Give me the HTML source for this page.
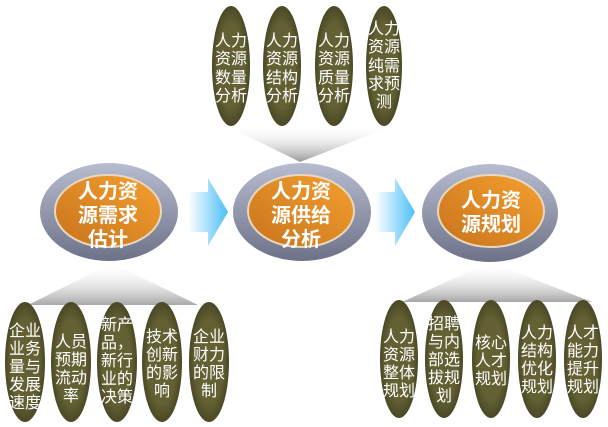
<!DOCTYPE html>
<html><head><meta charset="utf-8"><style>
body{margin:0;background:#fff;}
svg{display:block;font-family:"Liberation Sans","Noto Sans CJK SC",sans-serif;}
</style></head><body>
<svg width="608" height="427" viewBox="0 0 608 427" xmlns="http://www.w3.org/2000/svg">
<defs>
<linearGradient id="wedgeUp" x1="0" y1="1" x2="0" y2="0"><stop offset="0" stop-color="#a8a8a8"/><stop offset="1" stop-color="#fff" stop-opacity="0"/></linearGradient>
<linearGradient id="wedgeDn" x1="0" y1="0" x2="0" y2="1"><stop offset="0" stop-color="#fff" stop-opacity="0"/><stop offset="1" stop-color="#999"/></linearGradient>
<linearGradient id="ring" x1="0" y1="0" x2="0" y2="1"><stop offset="0" stop-color="#b8bcd0"/><stop offset="1" stop-color="#6e7288"/></linearGradient>
<linearGradient id="orange" x1="1" y1="0" x2="0" y2="1"><stop offset="0" stop-color="#f4a030"/><stop offset="1" stop-color="#c8731c"/></linearGradient>
<linearGradient id="arrow" x1="0" y1="0" x2="1" y2="0"><stop offset="0" stop-color="#fff"/><stop offset="1" stop-color="#4cc0f8"/></linearGradient>
<radialGradient id="olive" cx="0.5" cy="0.5" r="0.5"><stop offset="0.7" stop-color="#636033"/><stop offset="1" stop-color="#4a4826"/></radialGradient>
</defs>
<polygon points="225,125 395,125 300,162" fill="url(#wedgeDn)"/>
<polygon points="112,263 28,305 198,305" fill="url(#wedgeUp)"/>
<polygon points="490,262 402,302 592,302" fill="url(#wedgeUp)"/>
<polygon points="188,192 208,192 208,178 228,212 208,246 208,232 188,232" fill="url(#arrow)"/>
<polygon points="375,192 395,192 395,178 415,212 395,246 395,232 375,232" fill="url(#arrow)"/>
<g>
<ellipse cx="109" cy="212" rx="69" ry="49" fill="url(#ring)"/>
<ellipse cx="108" cy="211" rx="53" ry="36" fill="url(#orange)" stroke="#e8d8c0" stroke-width="2"/>
<ellipse cx="302" cy="212" rx="69" ry="49" fill="url(#ring)"/>
<ellipse cx="301" cy="211" rx="53" ry="36" fill="url(#orange)" stroke="#e8d8c0" stroke-width="2"/>
<ellipse cx="490" cy="213" rx="68" ry="49" fill="url(#ring)"/>
<ellipse cx="491" cy="211" rx="53" ry="36" fill="url(#orange)" stroke="#e8d8c0" stroke-width="2"/>
</g>
<g fill="#fff" font-size="20" font-weight="bold" text-anchor="middle">
<text x="108" y="198">人力资</text><text x="108" y="222">源需求</text><text x="108" y="246">估计</text>
<text x="301" y="198">人力资</text><text x="301" y="222">源供给</text><text x="301" y="246">分析</text>
<text x="491" y="207">人力资</text><text x="491" y="231">源规划</text>
</g>
<g fill="url(#olive)">
<ellipse cx="231" cy="66" rx="19" ry="60"/><ellipse cx="282" cy="66" rx="19" ry="60"/><ellipse cx="334" cy="66" rx="19" ry="60"/><ellipse cx="384" cy="66" rx="18" ry="60"/>
<ellipse cx="25" cy="362" rx="20" ry="60"/><ellipse cx="71" cy="362" rx="20" ry="60"/><ellipse cx="117" cy="362" rx="20" ry="60"/><ellipse cx="162" cy="362" rx="20" ry="60"/><ellipse cx="209" cy="362" rx="20" ry="60"/>
<ellipse cx="399" cy="359" rx="19" ry="59"/><ellipse cx="444" cy="359" rx="19" ry="59"/><ellipse cx="491" cy="359" rx="19" ry="59"/><ellipse cx="537" cy="359" rx="19" ry="59"/><ellipse cx="583" cy="359" rx="19" ry="59"/>
</g>
<g fill="#fff" font-size="16" text-anchor="middle">
<text x="231" y="46">人力</text><text x="231" y="64">资源</text><text x="231" y="83">数量</text><text x="231" y="101">分析</text>
<text x="282" y="46">人力</text><text x="282" y="64">资源</text><text x="282" y="83">结构</text><text x="282" y="101">分析</text>
<text x="334" y="46">人力</text><text x="334" y="64">资源</text><text x="334" y="83">质量</text><text x="334" y="101">分析</text>
<text x="384" y="34">人力</text><text x="384" y="52">资源</text><text x="384" y="71">纯需</text><text x="384" y="89">求预</text><text x="384" y="107">测</text>

<text x="25" y="336">企业</text><text x="25" y="354">业务</text><text x="25" y="372">量与</text><text x="25" y="390">发展</text><text x="25" y="408">速度</text>
<text x="71" y="347">人员</text><text x="71" y="365">预期</text><text x="71" y="383">流动</text><text x="71" y="401">率</text>
<text x="117" y="330">新产</text><text x="117" y="348">品，</text><text x="117" y="366">新行</text><text x="117" y="384">业的</text><text x="117" y="402">决策</text>
<text x="162" y="342">技术</text><text x="162" y="360">创新</text><text x="162" y="378">的影</text><text x="162" y="396">响</text>
<text x="209" y="342">企业</text><text x="209" y="360">财力</text><text x="209" y="378">的限</text><text x="209" y="396">制</text>

<text x="399" y="342">人力</text><text x="399" y="360">资源</text><text x="399" y="378">整体</text><text x="399" y="396">规划</text>
<text x="444" y="329">招聘</text><text x="444" y="347">与内</text><text x="444" y="365">部选</text><text x="444" y="383">拔规</text><text x="444" y="401">划</text>
<text x="491" y="348">核心</text><text x="491" y="366">人才</text><text x="491" y="384">规划</text>
<text x="537" y="338">人力</text><text x="537" y="356">结构</text><text x="537" y="374">优化</text><text x="537" y="392">规划</text>
<text x="583" y="338">人才</text><text x="583" y="356">能力</text><text x="583" y="374">提升</text><text x="583" y="392">规划</text>
</g>
</svg>
</body></html>
